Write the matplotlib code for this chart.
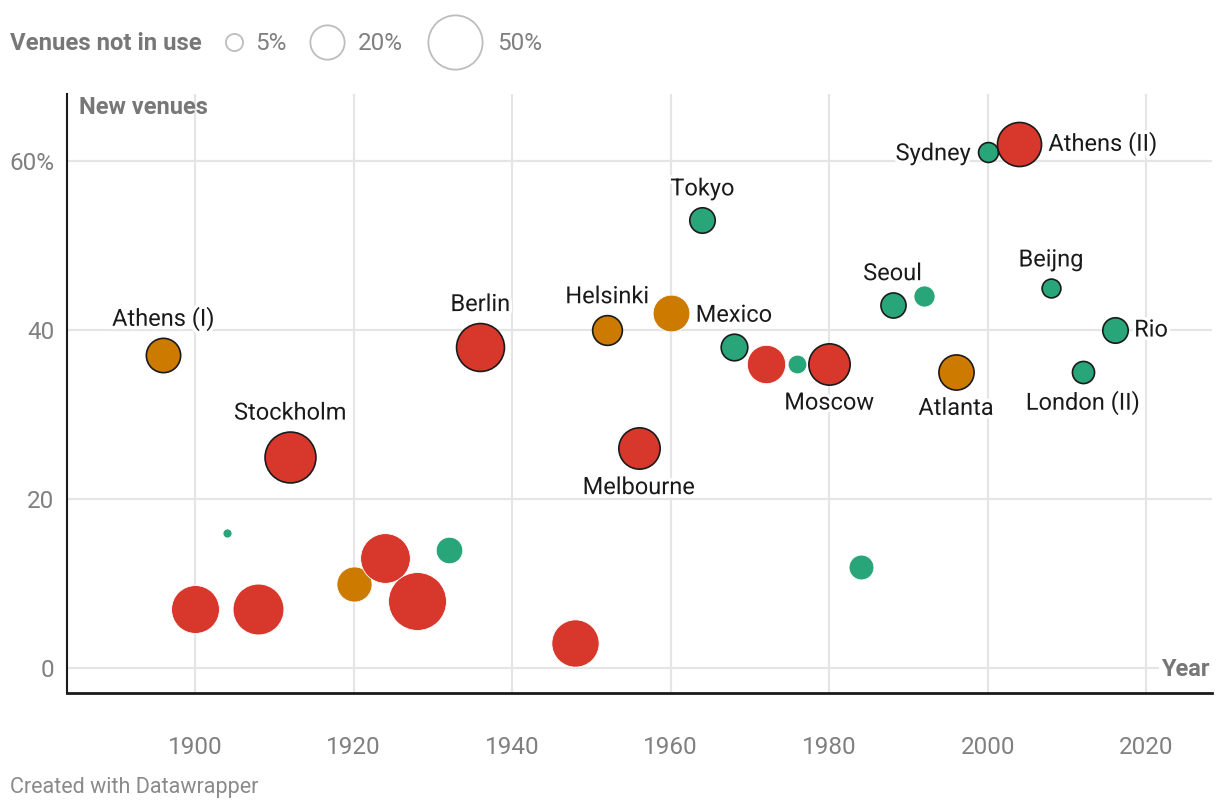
import matplotlib.pyplot as plt
import matplotlib.patheffects as pe

plt.rcParams['font.family'] = ['Roboto', 'DejaVu Sans']

# Data: Olympic games, share of new venues vs share of venues no longer in use
years = [1896, 1900, 1904, 1908, 1912, 1920, 1924, 1928, 1932, 1936, 1948, 1952, 1956, 1960,
         1964, 1968, 1972, 1976, 1980, 1984, 1988, 1992, 1996, 2000, 2004, 2008, 2012, 2016]
new_venues = [37, 7, 16, 7, 25, 10, 13, 8, 14, 38, 3, 40, 26, 42,
              53, 38, 36, 36, 36, 12, 43, 44, 35, 61, 62, 45, 35, 40]
not_in_use = [20, 39, 1.4, 44, 44, 21, 42, 57, 12, 39, 38, 15, 29, 23,
              11, 12, 25, 6, 29, 10.5, 10.7, 7.6, 21, 6.7, 33, 6, 8.3, 11]
group = ['o', 'r', 'g', 'r', 'r', 'o', 'r', 'r', 'g', 'r', 'r', 'o', 'r', 'o',
         'g', 'g', 'r', 'g', 'r', 'g', 'g', 'g', 'o', 'g', 'r', 'g', 'g', 'g']
names = ['Athens (I)', '', '', '', 'Stockholm', '', '', '', '', 'Berlin', '', 'Helsinki', 'Melbourne', '',
         'Tokyo', 'Mexico', '', '', 'Moscow', '', 'Seoul', '', 'Atlanta', 'Sydney', 'Athens (II)', 'Beijng',
         'London (II)', 'Rio']
label_pos = {'Athens (I)': 'above', 'Stockholm': 'above', 'Berlin': 'above', 'Helsinki': 'above',
             'Melbourne': 'below', 'Tokyo': 'above', 'Mexico': 'above', 'Moscow': 'below',
             'Seoul': 'above', 'Atlanta': 'below', 'Sydney': 'left', 'Athens (II)': 'right',
             'Beijng': 'above', 'London (II)': 'below', 'Rio': 'right'}

legend_vals = [5, 20, 50]

colours = {'r': '#d8372c', 'o': '#cc7a00', 'g': '#29a57a'}
grey = '#777777'

def size(v):
    return 30.5 * v

fig = plt.figure(figsize=(12.2, 8.1), dpi=100)
ax = fig.add_axes([67 / 1220, 1 - 693 / 810, 1145 / 1220, (693 - 94) / 810])

ax.set_xlim(1883.85, 2028.3)
ax.set_ylim(-2.9, 67.9)

# grid
ax.set_xticks([1900, 1920, 1940, 1960, 1980, 2000, 2020])
ax.set_yticks([0, 20, 40, 60])
ax.set_yticklabels(['0', '20', '40', '60%'])
ax.grid(True, color='#e5e5e5', lw=1.6, zorder=0)
ax.set_axisbelow(True)
ax.tick_params(length=0, labelsize=17.5, labelcolor='#808080')
ax.tick_params(axis='x', pad=31)
ax.tick_params(axis='y', pad=9)
for s in ['top', 'right']:
    ax.spines[s].set_visible(False)
ax.spines['left'].set_linewidth(1.5)
ax.spines['bottom'].set_linewidth(2)
ax.spines['left'].set_color('#1a1a1a')
ax.spines['bottom'].set_color('#1a1a1a')

# bubbles, in order of the games
for x, y, v, g, n in zip(years, new_venues, not_in_use, group, names):
    if n:
        ax.scatter(x, y, s=size(v), color=colours[g], edgecolor='#1a1a1a', lw=1.2, zorder=3)
    else:
        ax.scatter(x, y, s=size(v), color=colours[g], edgecolor='white', lw=0.6, zorder=3)

halo = [pe.withStroke(linewidth=5, foreground='white')]
for x, y, v, n in zip(years, new_venues, not_in_use, names):
    if not n:
        continue
    r = (size(v) ** 0.5) / 2  # radius in points
    pos = label_pos[n]
    if pos == 'above':
        xy, ha, va = (0, r + 5), 'center', 'bottom'
    elif pos == 'below':
        xy, ha, va = (0, -r - 5), 'center', 'top'
    elif pos == 'left':
        xy, ha, va = (-r - 5, -1), 'right', 'center'
    else:
        xy, ha, va = (r + 5, 0), 'left', 'center'
    ax.annotate(n, (x, y), xytext=xy, textcoords='offset points', ha=ha, va=va,
                fontsize=17, color='#1a1a1a', path_effects=halo, zorder=4)

# axis titles
ax.text(79 / 1220, 1 - 108 / 810, 'New venues', transform=fig.transFigure, fontsize=17,
        fontweight='bold', color=grey, ha='left', va='center')
ax.text(1210 / 1220, 1 - 670 / 810, 'Year', transform=fig.transFigure, fontsize=17,
        fontweight='bold', color=grey, ha='right', va='center',
        bbox=dict(facecolor='white', edgecolor='none', pad=2), zorder=5)

# size legend
fig.text(10 / 1220, 1 - 43 / 810, 'Venues not in use', fontsize=17.2, fontweight='bold',
         color=grey, ha='left', va='center')
leg_x = [234, 327, 455]
lab_x = [255, 358, 497]
for v, cx, lx in zip(legend_vals, leg_x, lab_x):
    fig.add_artist(plt.Line2D([cx / 1220], [1 - 42 / 810], marker='o', ls='none',
                              markersize=size(v) ** 0.5, markerfacecolor='none',
                              markeredgecolor='#bdbdbd', markeredgewidth=1.3,
                              transform=fig.transFigure))
    fig.text(lx / 1220, 1 - 43 / 810, f'{v}%', fontsize=17.5, color='#808080',
             ha='left', va='center')

fig.text(10 / 1220, 1 - 788 / 810, 'Created with Datawrapper', fontsize=15.5,
         color='#8a8a8a', ha='left', va='center')

fig.savefig('out.png', dpi=100)
